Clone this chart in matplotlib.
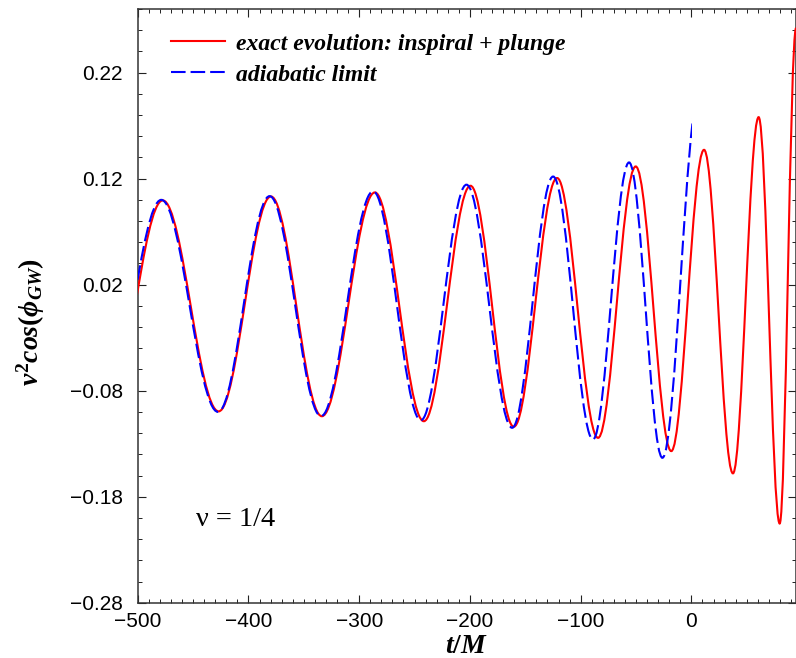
import matplotlib
matplotlib.use('Agg')
import matplotlib.pyplot as plt
from matplotlib.path import Path
from matplotlib.patches import PathPatch, Rectangle
from matplotlib.lines import Line2D
from matplotlib.ticker import FixedLocator, MultipleLocator, FuncFormatter

# ---- data: turning points of the waveforms ----
# exact evolution (inspiral + plunge): times of successive extrema and their values
red_t = [-527.0, -477.4, -426.9, -379.7, -333.7, -285.8, -241.6, -199.5, -160.4,
         -121.3, -84.3, -50.3, -18.2, 11.4, 37.5, 60.7, 79.7, 94.5]
red_y = [-0.098, 0.0995, -0.0995, 0.1032, -0.1041, 0.107, -0.1088, 0.1133, -0.114,
         0.1206, -0.1245, 0.1315, -0.137, 0.1472, -0.158, 0.178, -0.2053, 0.262]
# adiabatic limit: extrema, curve stops at blue_end_t
blue_t = [-529.5, -478.7, -427.5, -380.9, -334.5, -287.4, -244.3, -203.1, -161.9,
          -124.9, -88.9, -56.3, -26.2, 7.0]
blue_y = [-0.099, 0.100, -0.100, 0.1035, -0.104, 0.108, -0.1079, 0.1143, -0.115,
          0.122, -0.126, 0.1353, -0.1433, 0.200]
blue_end_t = 0.2

labels = ['exact evolution: inspiral + plunge', 'adiabatic limit']
y_ticks = [-0.28, -0.18, -0.08, 0.02, 0.12, 0.22]
x_ticks = [-500, -400, -300, -200, -100, 0]
x_range = (-500, 94)
y_range = (-0.28, 0.28)

plt.rcParams['mathtext.fontset'] = 'custom'
plt.rcParams['mathtext.it'] = 'Liberation Serif:bold:italic'
plt.rcParams['mathtext.rm'] = 'Liberation Serif:bold'
plt.rcParams['mathtext.bf'] = 'Liberation Serif:bold'


def smooth_path(ts, ys, k=0.3634):
    verts = [(ts[0], ys[0])]
    codes = [Path.MOVETO]
    for i in range(len(ts) - 1):
        dt = ts[i + 1] - ts[i]
        verts += [(ts[i] + k * dt, ys[i]), (ts[i + 1] - k * dt, ys[i + 1]),
                  (ts[i + 1], ys[i + 1])]
        codes += [Path.CURVE4] * 3
    return Path(verts, codes)


fig = plt.figure(figsize=(7.96, 6.58), dpi=100)
ax = fig.add_axes([0.173, 0.084, 0.8264, 0.9023])

red_col = '#ff0000'
blue_col = '#0000ff'
dash = (0, (7.0, 2.4))

red_patch = PathPatch(smooth_path(red_t, red_y), fill=False, edgecolor=red_col,
                      linewidth=1.5, zorder=3)
ax.add_patch(red_patch)
blue_patch = PathPatch(smooth_path(blue_t, blue_y), fill=False, edgecolor=blue_col,
                       linewidth=1.5, linestyle=dash, zorder=4)
ax.add_patch(blue_patch)
clip = Rectangle((x_range[0], y_range[0]), blue_end_t - x_range[0],
                 y_range[1] - y_range[0], transform=ax.transData)
blue_patch.set_clip_path(clip)

ax.set_xlim(*x_range)
ax.set_ylim(*y_range)

ax.xaxis.set_major_locator(FixedLocator(x_ticks))
ax.xaxis.set_minor_locator(MultipleLocator(10))
ax.yaxis.set_major_locator(FixedLocator(y_ticks))
ax.yaxis.set_minor_locator(MultipleLocator(0.02))
ax.yaxis.set_major_formatter(FuncFormatter(lambda v, p: f'{v:.2f}'.replace('-', '\u2212')))

ax.tick_params(which='both', direction='in', top=True, right=True, colors='#222222')
ax.tick_params(which='major', length=5.8, width=0.8)
ax.tick_params(which='minor', length=3.2, width=0.7)
ax.tick_params(axis='x', which='major', pad=6.7)
ax.tick_params(axis='y', which='major', pad=10.8)
for lab in ax.get_xticklabels() + ax.get_yticklabels():
    lab.set_fontfamily('Liberation Sans')
    lab.set_fontsize(15)
    lab.set_color('black')
for sp in ax.spines.values():
    sp.set_linewidth(1.1)
    sp.set_color('#333333')

ax.set_xlabel('$t/M$', fontsize=20)
ax.xaxis.set_label_coords(0.5, -0.047)
ax.set_ylabel(r'$v^2cos(\phi_{GW})$', fontsize=20)
ax.yaxis.set_label_coords(-0.138, 0.473)

ax.text(0.0886, 0.141, 'ν = 1/4', transform=ax.transAxes, ha='left', va='center',
        fontsize=20.5, fontfamily='Liberation Serif')

handles = [Line2D([], [], color=red_col, lw=1.5),
           Line2D([], [], color=blue_col, lw=1.5, linestyle=dash)]
leg = ax.legend(handles, labels, loc='upper left', bbox_to_anchor=(0.05, 0.9596),
                frameon=False, borderpad=0, borderaxespad=0, handlelength=2.29,
                handletextpad=0.5, labelspacing=0.41,
                prop={'family': 'Liberation Serif', 'weight': 'bold', 'style': 'italic',
                      'size': 17})

fig.savefig('out.png', dpi=100)
